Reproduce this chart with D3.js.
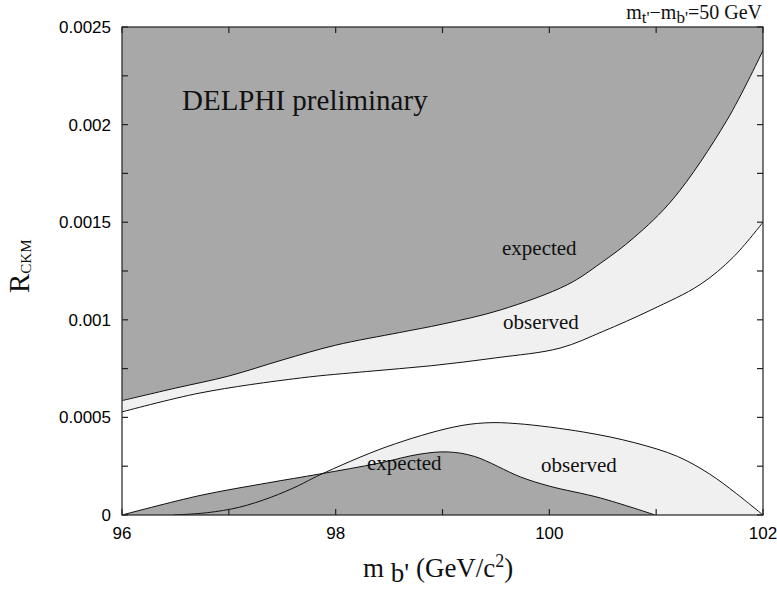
<!DOCTYPE html>
<html>
<head>
<meta charset="utf-8">
<script src="https://cdn.jsdelivr.net/npm/d3@7"></script>
<style>
  body { margin: 0; background: #fff; }
  .tick-label { font-family: "Liberation Sans", Arial, sans-serif; font-size: 17px; fill: #000; }
  .serif { font-family: "Liberation Serif", "Times New Roman", serif; fill: #111; }
</style>
</head>
<body>
<svg id="chart" width="777" height="597"></svg>
<script>
// upper band: limits on R_CKM (excluded above the curves)
const upExpX = [96, 96.5, 97.0, 97.5, 98.0, 98.6, 99.0, 99.54, 100.17, 100.48, 100.79, 101.16, 101.66, 102];
const upExpY = [0.000586, 0.00065, 0.000712, 0.000794, 0.00087, 0.000935, 0.000978, 0.00105, 0.00118, 0.00129, 0.00142, 0.00162, 0.00202, 0.00238];
const upObsX = [96, 96.73, 97.67, 98.29, 98.9, 99.5, 100.1, 100.5, 100.95, 101.41, 101.72, 102];
const upObsY = [0.000528, 0.000625, 0.000702, 0.000735, 0.000765, 0.000805, 0.000855, 0.00094, 0.00105, 0.00118, 0.00132, 0.0015];

// lower band: excluded below the curves
const loExpX = [96, 96.73, 97.36, 97.85, 98.4, 98.79, 99.05, 99.3, 99.73, 100.0, 100.48, 100.99];
const loExpY = [0, 0.0001, 0.000164, 0.00021, 0.000265, 0.000312, 0.000323, 0.0003, 0.000195, 0.000148, 0.000087, 0];
const loObsX = [96.48, 96.8, 97.1, 97.4, 97.65, 97.85, 98.48, 99.1, 99.4, 99.7, 100.32, 100.8, 101.2, 101.5, 101.75, 102];
const loObsY = [0, 0.000012, 0.00004, 0.000092, 0.00015, 0.000205, 0.00035, 0.00045, 0.000472, 0.000468, 0.000425, 0.00037, 0.0003, 0.00021, 0.00011, 0];

const xMajor = [96, 98, 100, 102];
const xMinor = [97, 99, 101];
const yMajor = [0, 0.0005, 0.001, 0.0015, 0.002, 0.0025];
const yMinor = [0.00025, 0.00075, 0.00125, 0.00175, 0.00225];
const yLabels = ["0", "0.0005", "0.001", "0.0015", "0.002", "0.0025"];

const dark = "#a8a8a8", light = "#f0f0f0";

const svg = d3.select("#chart");
const pl = 122, pr = 763, pt = 27, pb = 515;

const x = d3.scaleLinear().domain([96, 102]).range([pl, pr]);
const y = d3.scaleLinear().domain([0, 0.0025]).range([pb, pt]);

const zip = (xs, ys) => xs.map((v, i) => [v, ys[i]]);
const upExp = zip(upExpX, upExpY), upObs = zip(upObsX, upObsY);
const loExp = zip(loExpX, loExpY), loObs = zip(loObsX, loObsY);

svg.append("clipPath").attr("id", "clip")
   .append("rect")
   .attr("x", pl).attr("y", pt)
   .attr("width", pr - pl).attr("height", pb - pt);

const plot = svg.append("g").attr("clip-path", "url(#clip)");

const curve = d3.curveCatmullRom.alpha(0.5);
const areaAbove = d3.area().curve(curve)
  .x(d => x(d[0])).y0(y(0.0025)).y1(d => y(d[1]));
const areaBelow = d3.area().curve(curve)
  .x(d => x(d[0])).y0(y(0)).y1(d => y(d[1]));
const line = d3.line().curve(curve)
  .x(d => x(d[0])).y(d => y(d[1]));

// fills: observed (light) under expected (dark)
plot.append("path").datum(upObs).attr("d", areaAbove).attr("fill", light);
plot.append("path").datum(upExp).attr("d", areaAbove).attr("fill", dark);
plot.append("path").datum(loObs).attr("d", areaBelow).attr("fill", light);
plot.append("path").datum(loExp).attr("d", areaBelow).attr("fill", dark);

[upObs, upExp, loObs, loExp].forEach(d => {
  plot.append("path").datum(d).attr("d", line)
      .attr("fill", "none").attr("stroke", "#111").attr("stroke-width", 1);
});

// frame + ticks (inside, mirrored)
const frame = svg.append("g").attr("stroke", "#222").attr("stroke-width", 1.2);
frame.append("rect")
     .attr("x", pl).attr("y", pt)
     .attr("width", pr - pl).attr("height", pb - pt)
     .attr("fill", "none");

const tickLen = 6;
xMajor.concat(xMinor).forEach(v => {
  frame.append("line").attr("x1", x(v)).attr("x2", x(v))
       .attr("y1", pb).attr("y2", pb - tickLen);
  frame.append("line").attr("x1", x(v)).attr("x2", x(v))
       .attr("y1", pt).attr("y2", pt + tickLen);
});
yMajor.concat(yMinor).forEach(v => {
  frame.append("line").attr("y1", y(v)).attr("y2", y(v))
       .attr("x1", pl).attr("x2", pl + tickLen);
  frame.append("line").attr("y1", y(v)).attr("y2", y(v))
       .attr("x1", pr).attr("x2", pr - tickLen);
});

svg.selectAll(".ylab").data(yMajor).join("text")
   .attr("class", "tick-label")
   .attr("x", pl - 11)
   .attr("y", d => y(d) + 6)
   .attr("text-anchor", "end")
   .text((d, i) => yLabels[i]);

svg.selectAll(".xlab").data(xMajor).join("text")
   .attr("class", "tick-label")
   .attr("x", d => x(d))
   .attr("y", pb + 24)
   .attr("text-anchor", "middle")
   .text(d => d);

// annotations
svg.append("text").attr("class", "serif")
   .attr("x", 182).attr("y", 110)
   .style("font-size", "29px")
   .text("DELPHI preliminary");

const note = (tx, ty, s) => svg.append("text").attr("class", "serif")
   .attr("x", tx).attr("y", ty).style("font-size", "21px").text(s);
note(502, 255, "expected");
note(503, 329, "observed");
note(367, 470, "expected");
note(541, 472, "observed");

// title top-right
const title = svg.append("text").attr("class", "serif")
   .attr("x", 762).attr("y", 19)
   .attr("text-anchor", "end")
   .style("font-size", "20px");
title.append("tspan").text("m");
title.append("tspan").attr("dy", 4).style("font-size", "17px").text("t'");
title.append("tspan").attr("dy", -4).text("\u2212m");
title.append("tspan").attr("dy", 4).style("font-size", "17px").text("b'");
title.append("tspan").attr("dy", -4).text("=50 GeV");

// x axis title
const xt = svg.append("text").attr("class", "serif")
   .attr("x", 363).attr("y", 577)
   .style("font-size", "27px");
xt.append("tspan").text("m ");
xt.append("tspan").attr("dy", 5).text("b'");
xt.append("tspan").attr("dy", -5).text(" (GeV/c");
xt.append("tspan").attr("dy", -10).style("font-size", "18px").text("2");
xt.append("tspan").attr("dy", 10).text(")");

// y axis title
const yt = svg.append("text").attr("class", "serif")
   .attr("transform", "translate(29,293) rotate(-90)")
   .style("font-size", "29px");
yt.append("tspan").text("R");
yt.append("tspan").attr("dy", 2).style("font-size", "15px").text("CKM");
</script>
</body>
</html>
